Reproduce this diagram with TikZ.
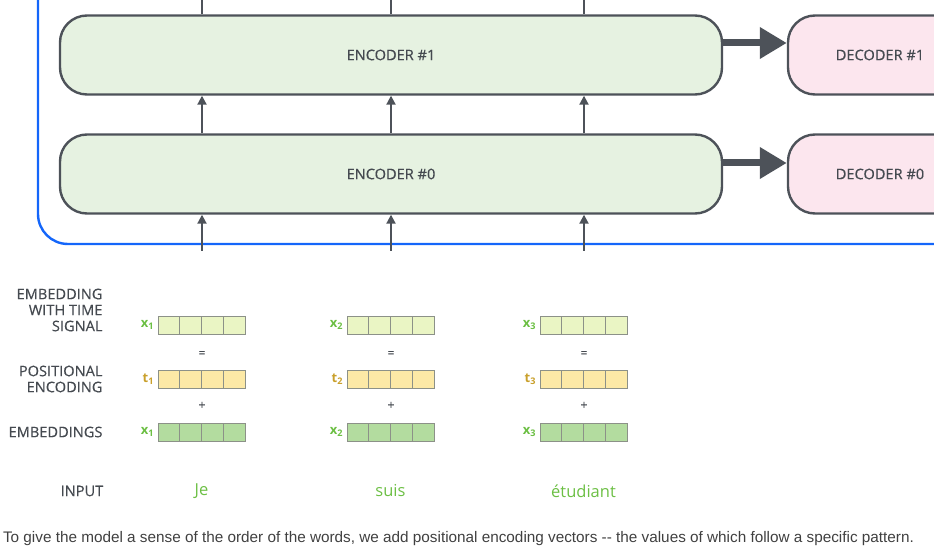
\documentclass[tikz,border=0pt]{standalone}
\usepackage{fontspec}
\setmainfont{Open Sans}
\newfontfamily\diafont{Open Sans}[FakeBold=0.35]
\newfontfamily\capfont{Liberation Sans}
\usetikzlibrary{arrows.meta, calc}

\definecolor{linegray}{HTML}{4D5259}
\definecolor{textgray}{HTML}{454A50}
\definecolor{encfill}{HTML}{E6F2E1}
\definecolor{decfill}{HTML}{FCE6EE}
\definecolor{frameblue}{HTML}{1466FA}
\definecolor{signalfill}{HTML}{EAF5C4}
\definecolor{posfill}{HTML}{FCE9A6}
\definecolor{embfill}{HTML}{B3DC9F}
\definecolor{cellgray}{HTML}{8C9188}
\definecolor{wordgreen}{HTML}{6CBF44}
\definecolor{posgold}{HTML}{C9A02C}

\tikzset{
    coder/.style={draw=linegray, line width=2.4pt, rounded corners=27pt, minimum height=79pt,
        font=\diafont\fontsize{14.6}{16}\selectfont, text=textgray},
    uparrow/.style={draw=linegray, line width=2pt, -{Triangle[length=9pt, width=9pt]}},
    bigarrow/.style={draw=linegray, line width=7pt, -{Triangle[length=27pt, width=30pt]}},
    cell/.style={draw=cellgray, line width=1pt, minimum width=21.75pt, minimum height=18pt, inner sep=0pt},
    rowlabel/.style={anchor=east, align=right, text=textgray, font=\diafont\fontsize{14.6}{16}\selectfont},
    veclabel/.style={anchor=east, font=\fontsize{13}{15}\selectfont\bfseries},
    sign/.style={text=textgray, font=\diafont\fontsize{12}{14}\selectfont},
    word/.style={text=wordgreen, font=\fontsize{16.5}{18}\selectfont}
}

\newcommand{\vecrow}[4]{%
    \foreach \k in {1,...,4} {
        \node [cell, fill=#4] (#1-\k) at (#2 + 21.75*\k - 10.875, #3) {};
    }
}

\begin{document}
\begin{tikzpicture}[x=1pt, y=-1pt]
    \useasboundingbox (0, 0) rectangle (934, 553);

    \draw [frameblue, line width=2.4pt, rounded corners=30pt] (38, -10) -- (38, 244) -- (950, 244);

    \node [coder, fill=encfill, minimum width=662pt] (enc1) at (391, 55) {ENCODER \#1};
    \node [coder, fill=encfill, minimum width=662pt] (enc0) at (391, 174) {ENCODER \#0};
    \node [coder, fill=decfill, minimum width=184pt] (dec1) at (880, 55) {DECODER \#1};
    \node [coder, fill=decfill, minimum width=184pt] (dec0) at (880, 174) {DECODER \#0};

    \draw [bigarrow] ([yshift=12pt]enc1.east) -- ([yshift=12pt]dec1.west);
    \draw [bigarrow] ([yshift=11pt]enc0.east) -- ([yshift=11pt]dec0.west);

    \foreach \c/\x in {a/202, b/391, c/584} {
        \coordinate (top-\c) at (\x, -5);
        \coordinate (bot-\c) at (\x, 251);
        \draw [draw=linegray, line width=2pt] (enc1.north -| top-\c) -- (top-\c);
        \draw [uparrow] (enc0.north -| bot-\c) -- (enc1.south -| bot-\c);
        \draw [uparrow] (bot-\c) -- (enc0.south -| bot-\c);
    }

    \node [rowlabel] (lsignal) at (106, 310) {EMBEDDING\\WITH TIME\\SIGNAL};
    \node [rowlabel] (lpos) at (106, 379) {POSITIONAL\\ENCODING};
    \node [rowlabel] (lemb) at (106, 432) {EMBEDDINGS};
    \node [rowlabel, anchor=center] (linput) at (82, 491) {INPUT};

    \foreach \n/\x/\w in {1/158/Je, 2/347/suis, 3/540/{étudiant}} {
        \vecrow{sig\n}{\x}{325}{signalfill}
        \vecrow{pos\n}{\x}{379}{posfill}
        \vecrow{emb\n}{\x}{432}{embfill}
        \node [veclabel, text=wordgreen] (xs\n) at (sig\n-1.west) {x\textsubscript{\n}};
        \node [veclabel, text=posgold] (t\n) at (pos\n-1.west) {t\textsubscript{\n}};
        \node [veclabel, text=wordgreen] (xe\n) at (emb\n-1.west) {x\textsubscript{\n}};
        \node [sign, yshift=-2pt] (eq\n) at ($(sig\n-2.east)!0.5!(pos\n-2.east)$) {=};
        \node [sign] (plus\n) at ($(pos\n-2.east)!0.5!(emb\n-2.east)$) {+};
        \node [word] (w\n) at (\x + 43.5, 491) {\w};
    }

    \node [text=black!75, font=\capfont\fontsize{15.3}{17}\selectfont, inner sep=0pt] (caption) at (458.5, 539)
        {To give the model a sense of the order of the words, we add positional encoding vectors -- the values of which follow a specific pattern.};
\end{tikzpicture}
\end{document}
